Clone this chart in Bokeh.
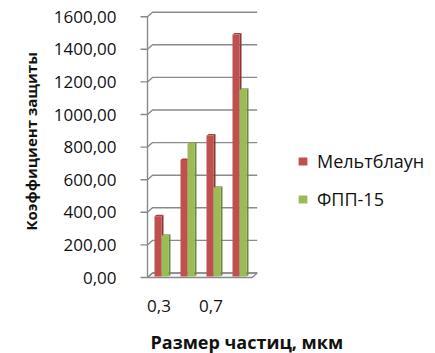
import numpy as np
from bokeh.plotting import figure
from bokeh.models import Range1d, FixedTicker, Legend, LegendItem, Title
from bokeh.core.properties import value
from bokeh.embed import file_html
from bokeh.resources import INLINE

# ---- data -------------------------------------------------------------
x_labels = ["0,3", "", "0,7", ""]
x_title = "Размер частиц, мкм"
y_title = "Коэффициент защиты"
meltblown = [370, 715, 865, 1485]
fpp15 = [250, 815, 545, 1145]
series_names = ["Мельтблаун", "ФПП-15"]
y_ticks = [0, 200, 400, 600, 800, 1000, 1200, 1400, 1600]
y_tick_labels = ["0,00", "200,00", "400,00", "600,00", "800,00",
                 "1000,00", "1200,00", "1400,00", "1600,00"]

# ---- geometry (pixels) ------------------------------------------------
W, H = 435, 353
FL, FR, FT, FB = 136, W, 8, H          # frame edges (legend, x texts inside)
CAT_PX = 26.0                          # pixels per category
CAT1_PX = 158.5                        # first category centre (front plane)
ZERO_PX = 277.0                        # value 0 on the front plane
PX_PER_VAL = 32.6 / 200.0
FONT = "Open Sans"
TEXT = "#111111"


def xd(px):
    return 1 + (px - CAT1_PX) / CAT_PX


def yd(py):
    return (ZERO_PX - py) / PX_PER_VAL


p = figure(width=W, height=H,
           x_range=Range1d(xd(FL), xd(FR)), y_range=Range1d(yd(FB), yd(FT)),
           min_border_left=FL, min_border_right=0,
           min_border_top=FT, min_border_bottom=0,
           output_backend="svg", toolbar_location=None)
p.outline_line_color = None
p.grid.visible = False
p.xaxis.visible = False
p.background_fill_color = "white"
p.border_fill_color = "white"

# 3-D walls: depth offset of the back wall
DX = 5.0 / CAT_PX
DY = 4.5 / PX_PER_VAL
axis_x = xd(147.0)
wall_r = xd(251.7)
tick_x0 = xd(140.0)
GRID = "#8a8a8a"

# floor slab
p.patch([axis_x, wall_r, wall_r + DX, axis_x + DX],
        [0, 0, DY, DY], fill_color="#f4f4f4", line_color=GRID, line_width=1.3)

# tick stub -> side wall diagonal -> back wall gridline
xs, ys = [], []
for v in y_ticks:
    xs.append([tick_x0, axis_x, axis_x + DX, wall_r + DX])
    ys.append([v, v, v + DY, v + DY])
p.multi_line(xs, ys, line_color=GRID, line_width=1.4)
# front vertical axis line
p.line([axis_x, axis_x], [0, y_ticks[-1]], line_color=GRID, line_width=1.4)

# ---- bars -------------------------------------------------------------
cat = np.arange(1, len(meltblown) + 1, dtype=float)
off = 2.5 / CAT_PX
bw = 7.0 / CAT_PX
lift = 1.0 / PX_PER_VAL
sdx = 2.0 / CAT_PX
sdy = 1.5 / PX_PER_VAL


def draw_bars(left, vals, front, side, top):
    vals = np.asarray(vals, dtype=float)
    right = left + bw
    bot = np.full_like(vals, lift)
    tp = vals + lift
    side_xs = [[r, r + sdx, r + sdx, r] for r in right]
    side_ys = [[b, b + sdy, t + sdy, t] for b, t in zip(bot, tp)]
    p.patches(side_xs, side_ys, fill_color=side, line_color=None)
    top_xs = [[l, r, r + sdx, l + sdx] for l, r in zip(left, right)]
    top_ys = [[t, t, t + sdy, t + sdy] for t in tp]
    p.patches(top_xs, top_ys, fill_color=top, line_color=None)
    return p.quad(left=left, right=right, bottom=bot, top=tp,
                  fill_color=front, line_color=None)


r_red = draw_bars(cat + off - bw, meltblown, "#c0504d", "#8c3532", "#a9413e")
r_green = draw_bars(cat + off, fpp15, "#9bbb59", "#6d8a36", "#84a348")

# ---- y axis -----------------------------------------------------------
p.yaxis.ticker = FixedTicker(ticks=y_ticks)
p.yaxis.major_label_overrides = {v: s for v, s in zip(y_ticks, y_tick_labels)}
p.yaxis.axis_line_color = None
p.yaxis.major_tick_line_color = None
p.yaxis.minor_tick_line_color = None
p.yaxis.major_label_standoff = 14
p.yaxis.major_label_text_font = FONT
p.yaxis.major_label_text_font_size = "17px"
p.yaxis.major_label_text_color = TEXT

# vertical title, centred on the value scale rather than on the whole frame
p.add_layout(Title(text=y_title, align="left", offset=123,
                   text_font=FONT, text_font_style="bold",
                   text_font_size="15px", text_color=TEXT, standoff=19),
             "left")

# ---- category labels and x title (drawn under the floor) -------------
lab_x = [c for c, s in zip(cat, x_labels) if s]
lab_t = [s for s in x_labels if s]
p.text(x=lab_x, y=[yd(305.0)] * len(lab_x), text=lab_t,
       text_font=value(FONT), text_font_size="17px", text_color=TEXT,
       text_align="center", text_baseline="middle")
p.text(x=[xd(150.0)], y=[yd(341.0)], text=[x_title],
       text_font=value(FONT), text_font_style="bold", text_font_size="18px",
       text_color=TEXT, text_align="left", text_baseline="middle")

# ---- legend -----------------------------------------------------------
legend = Legend(items=[LegendItem(label=series_names[0], renderers=[r_red]),
                       LegendItem(label=series_names[1], renderers=[r_green])],
                location=(297 - FL, FB - 211),
                glyph_width=11, glyph_height=10, label_standoff=9,
                label_height=24, spacing=14, padding=0, margin=0,
                label_text_font=FONT, label_text_font_size="18px",
                label_text_color=TEXT,
                border_line_color=None, background_fill_alpha=0)
p.add_layout(legend)

open("out.html", "w").write(file_html(p, INLINE))
